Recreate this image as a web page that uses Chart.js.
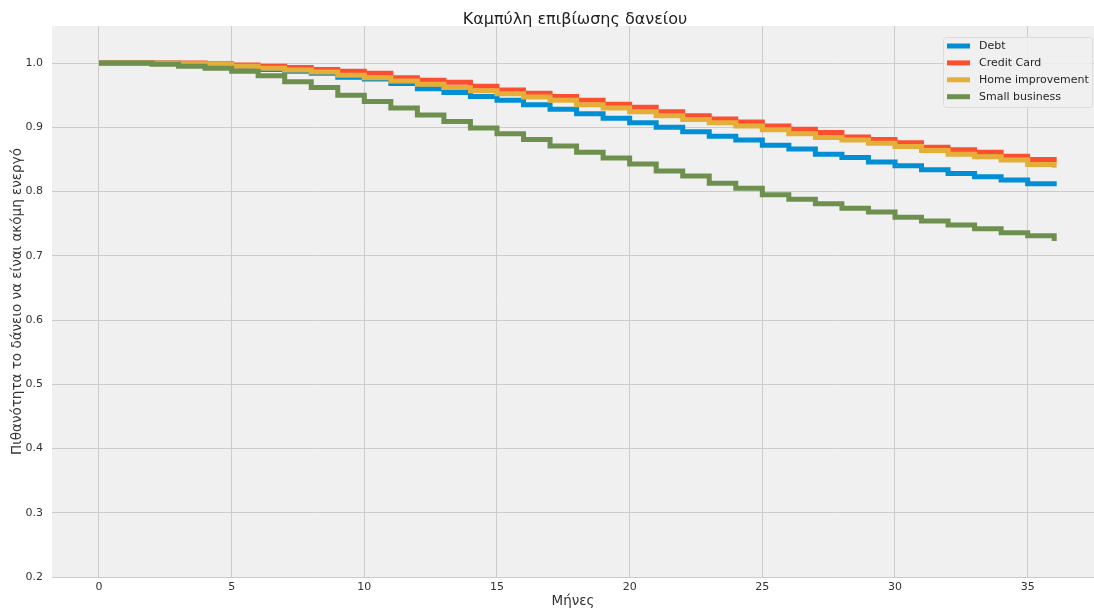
<!DOCTYPE html>
<html>
<head>
<meta charset="utf-8">
<script src="https://cdn.jsdelivr.net/npm/chart.js@4"></script>
<style>
  html, body { margin: 0; padding: 0; background: #ffffff; }
  #wrap { width: 1094px; height: 609px; }
</style>
</head>
<body>
<div id="wrap"><canvas id="chart" width="1094" height="609"></canvas></div>
<script>
// Months since loan origination
const months = [0,1,2,3,4,5,6,7,8,9,10,11,12,13,14,15,16,17,18,19,20,21,22,23,24,25,26,27,28,29,30,31,32,33,34,35,36];

// Kaplan-Meier survival estimates per loan purpose
const debt = [1.0,1.0,1.0,0.999,0.997,0.993,0.990,0.987,0.984,0.978,0.975,0.968,0.960,0.954,0.948,0.942,0.935,0.928,0.921,0.914,0.907,0.900,0.893,0.886,0.880,0.872,0.866,0.858,0.853,0.846,0.840,0.834,0.828,0.823,0.818,0.812,0.808];
const creditCard = [1.0,1.0,1.0,1.0,0.999,0.997,0.995,0.993,0.990,0.987,0.984,0.977,0.973,0.970,0.964,0.958,0.953,0.948,0.942,0.936,0.931,0.924,0.918,0.913,0.908,0.902,0.897,0.892,0.885,0.881,0.876,0.869,0.865,0.861,0.855,0.850,0.846];
const homeImprovement = [1.0,1.0,1.0,0.999,0.998,0.995,0.992,0.989,0.986,0.981,0.977,0.972,0.967,0.962,0.957,0.952,0.947,0.942,0.935,0.930,0.924,0.918,0.912,0.907,0.902,0.896,0.890,0.884,0.880,0.875,0.870,0.864,0.858,0.854,0.849,0.842,0.837];
const smallBusiness = [1.0,1.0,0.998,0.995,0.992,0.987,0.980,0.971,0.962,0.950,0.940,0.930,0.919,0.909,0.899,0.890,0.881,0.871,0.861,0.852,0.843,0.832,0.824,0.813,0.805,0.795,0.788,0.781,0.774,0.768,0.760,0.754,0.748,0.742,0.736,0.731,0.723];

const seriesNames = ['Debt', 'Credit Card', 'Home improvement', 'Small business'];
const seriesValues = [debt, creditCard, homeImprovement, smallBusiness];
const seriesColors = ['#008fd5', '#fc4f30', '#e5ae38', '#6d904f'];

const xTicks = [0, 5, 10, 15, 20, 25, 30, 35];
const yTicks = [0.2, 0.3, 0.4, 0.5, 0.6, 0.7, 0.8, 0.9, 1.0];

const chartTitle = 'Καμπύλη επιβίωσης δανείου';
const xTitle = 'Μήνες';
const yTitle = 'Πιθανότητα το δάνειο να είναι ακόμη ενεργό';

const FONT = "'DejaVu Sans', sans-serif";

const datasets = seriesNames.map((name, i) => ({
  label: name,
  data: months.map((m, j) => ({ x: m, y: seriesValues[i][j] })),
  borderColor: seriesColors[i],
  backgroundColor: seriesColors[i],
  borderWidth: 5,
  stepped: 'before',
  pointRadius: 0,
  fill: false,
  borderJoinStyle: 'miter',
  order: seriesNames.length - i   // later series painted on top
}));

// Plot background, title and legend box
const decor = {
  id: 'decor',
  beforeDraw(chart) {
    const { ctx, chartArea: a } = chart;
    ctx.save();
    ctx.fillStyle = '#f0f0f0';
    ctx.fillRect(a.left, a.top, a.right - a.left, a.bottom - a.top);
    ctx.restore();
  },
  afterDraw(chart) {
    const { ctx, chartArea: a } = chart;
    ctx.save();
    // title
    ctx.fillStyle = '#222';
    ctx.font = '16px ' + FONT;
    ctx.textAlign = 'center';
    ctx.textBaseline = 'middle';
    ctx.fillText(chartTitle, (a.left + a.right) / 2 + 2, 20);

    // legend
    const bx = 943, by = 37, bw = 149, bh = 70;
    ctx.fillStyle = 'rgba(240,240,240,0.85)';
    ctx.strokeStyle = '#dcdcdc';
    ctx.lineWidth = 1;
    ctx.beginPath();
    if (ctx.roundRect) ctx.roundRect(bx + 0.5, by + 0.5, bw, bh, 3); else ctx.rect(bx + 0.5, by + 0.5, bw, bh);
    ctx.fill();
    ctx.stroke();
    ctx.font = '11px ' + FONT;
    ctx.textAlign = 'left';
    ctx.textBaseline = 'middle';
    seriesNames.forEach((name, i) => {
      const y = 46 + i * 16.9;
      ctx.strokeStyle = seriesColors[i];
      ctx.lineWidth = 5;
      ctx.beginPath();
      ctx.moveTo(947, y);
      ctx.lineTo(970, y);
      ctx.stroke();
      ctx.fillStyle = '#262626';
      ctx.fillText(name, 979, y + 0.5);
    });
    ctx.restore();
  }
};

new Chart(document.getElementById('chart'), {
  type: 'line',
  data: { datasets },
  options: {
    responsive: false,
    devicePixelRatio: 1,
    animation: false,
    layout: { padding: { top: 26, right: 0, left: 0, bottom: 0 } },
    plugins: {
      legend: { display: false },
      title: { display: false },
      tooltip: { enabled: false }
    },
    scales: {
      x: {
        type: 'linear',
        min: -1.77,
        max: 37.5,
        afterBuildTicks(scale) { scale.ticks = xTicks.map(v => ({ value: v })); },
        afterFit(scale) { scale.height = 32; },
        border: { display: false },
        grid: { color: '#cbcbcb', lineWidth: 1, tickLength: 0, drawTicks: false },
        ticks: {
          color: '#333',
          font: { family: FONT, size: 11 },
          padding: 4,
          maxRotation: 0,
          callback: v => String(v)
        },
        title: {
          display: true,
          text: xTitle,
          color: '#333',
          font: { family: FONT, size: 13.5 },
          padding: { top: 0, bottom: -1 }
        }
      },
      y: {
        type: 'linear',
        min: 0.2,
        max: 1.0576,
        afterBuildTicks(scale) { scale.ticks = yTicks.map(v => ({ value: v })); },
        afterFit(scale) { scale.width = 52; },
        border: { display: false },
        grid: { color: '#cbcbcb', lineWidth: 1, tickLength: 0, drawTicks: false },
        ticks: {
          color: '#333',
          font: { family: FONT, size: 11 },
          padding: 9,
          callback: v => Number(v).toFixed(1)
        },
        title: {
          display: true,
          text: yTitle,
          color: '#333',
          font: { family: FONT, size: 13.5 },
          padding: { top: 9, bottom: 0 }
        }
      }
    }
  },
  plugins: [decor]
});
</script>
</body>
</html>
